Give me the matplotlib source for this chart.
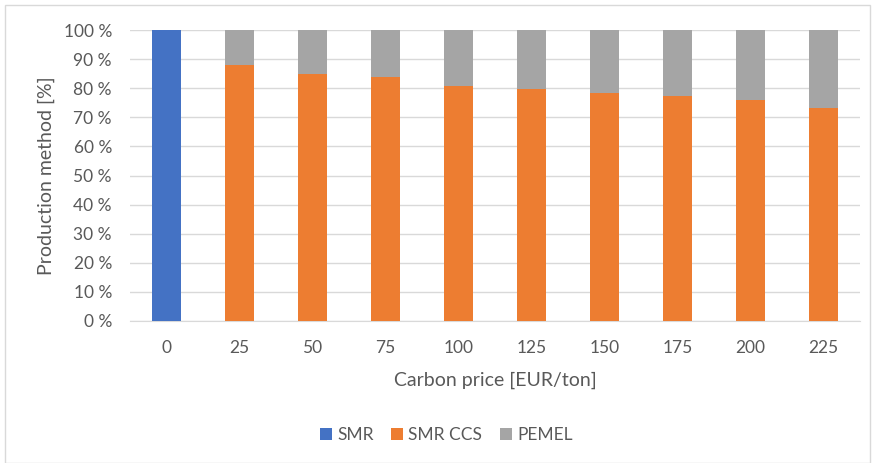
import matplotlib.pyplot as plt
from matplotlib.patches import Rectangle
import numpy as np

# data (shares in %)
carbon_price = ['0', '25', '50', '75', '100', '125', '150', '175', '200', '225']
smr = [100, 0, 0, 0, 0, 0, 0, 0, 0, 0]
smr_ccs = [0, 88.0, 84.8, 83.9, 80.8, 79.6, 78.5, 77.4, 76.1, 73.1]
pemel = [100 - a - b for a, b in zip(smr, smr_ccs)]

plt.rcParams['font.family'] = ['Lato', 'DejaVu Sans']
txt = '#595959'

fig = plt.figure(figsize=(8.75, 4.63), dpi=100)
ax = fig.add_axes([0.1486, 0.3067, 0.834, 0.6283])

x = np.arange(len(carbon_price))
w = 0.4
ax.bar(x, smr, w, color='#4472C4', label='SMR', zorder=3)
ax.bar(x, smr_ccs, w, bottom=smr, color='#ED7D31', label='SMR CCS', zorder=3)
bottom2 = [a + b for a, b in zip(smr, smr_ccs)]
ax.bar(x, pemel, w, bottom=bottom2, color='#A5A5A5', label='PEMEL', zorder=3)

ax.set_xlim(-0.5, len(x) - 0.5)
ax.set_ylim(0, 100)
ax.set_yticks(range(0, 101, 10))
ax.set_yticklabels([f'{v} %' for v in range(0, 101, 10)])
ax.set_xticks(x)
ax.set_xticklabels(carbon_price)
ax.yaxis.grid(True, color='#D9D9D9', linewidth=1, zorder=0)
ax.tick_params(axis='both', length=0, labelsize=12.5, colors=txt)
ax.tick_params(axis='y', pad=13)
ax.tick_params(axis='x', pad=14)
for s in ['top', 'right', 'left']:
    ax.spines[s].set_visible(False)
ax.spines['bottom'].set_color('#D9D9D9')

ax.set_xlabel('Carbon price [EUR/ton]', fontsize=14, color=txt, labelpad=11)
ax.set_ylabel('Production method [%]', fontsize=14, color=txt, labelpad=6)

fig.legend(loc='center', bbox_to_anchor=(0.51, 0.06), ncol=3, frameon=False,
           fontsize=12.5, labelcolor=txt, handlelength=0.7, handleheight=0.7,
           handletextpad=0.3, columnspacing=1.0)

fig.patches.append(Rectangle((0.006, 0.0), 0.988, 0.99, transform=fig.transFigure,
                             fill=False, edgecolor='#D9D9D9', linewidth=1))

fig.savefig('out.png', dpi=100)
